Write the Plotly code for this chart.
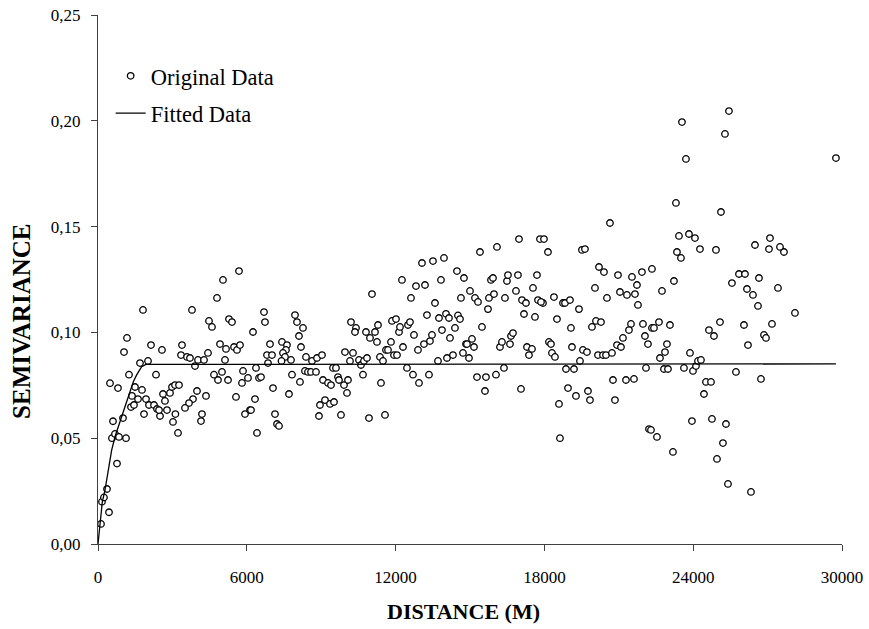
import plotly.graph_objects as go

# ---- Original data: distance (m) and semivariance ----
distance_m = [
    121, 160, 240, 363, 444, 766, 564, 685, 847, 1129, 605, 1008, 484, 806, 1048, 1169, 1250,
    1330, 1451, 1371, 1492, 1613, 1774, 1693, 2016, 1855, 1935, 2056, 2258, 2379, 2500, 2460,
    2137, 2339, 2580, 2621, 2701, 2903, 2782, 2984, 3105, 3266, 3120, 3024, 3226, 1814, 3387,
    3347, 3588, 3709, 3911, 4032, 4274, 4435, 3790, 3992, 3830, 3669, 3508, 4355, 4193, 4153,
    4475, 4596, 4677, 4838, 5000, 5242, 4919, 5161, 5121, 5484, 5605, 5726, 5282, 5403, 5564,
    5847, 5806, 6048, 6371, 6492, 6572, 5927, 6129, 6169, 6330, 6411, 6250, 6733, 6693, 6935,
    6814, 7016, 6854, 7056, 7137, 7217, 7298, 7419, 4798, 5040, 5685,
    11048, 12257, 13064, 13507, 13951, 14475, 14757, 15000, 12822, 13185, 13830, 12620, 13588,
    14636, 7943, 13265, 14032, 14515,
    8024, 8266, 8104, 7620, 7580, 7459, 7540, 7400, 7782, 8185, 8387, 8629, 8830, 9032, 7822,
    8144, 7701, 8346, 8467, 8588, 8790, 9072, 9274, 9395, 9475, 9596, 9677, 9717, 9919, 10080,
    10040, 8951, 9153, 9354, 9516, 8911, 9798, 10927, 11572, 11411, 10685, 10201, 10403, 10362,
    9959, 10282, 10161, 10524, 10604, 10725, 10846, 10806, 10967, 11169, 11290, 11249, 11370,
    11491, 11612, 11693, 11814, 11935, 12056, 12298, 11854, 12016, 12137, 12177, 12499, 12580,
    12741, 12459, 12701, 12943, 13346, 12902, 13144, 13386, 13467, 13709, 13749, 14153, 13870,
    14193, 14394, 14596, 14072, 14314, 14717, 14838, 14959,
    20644, 16975, 17822, 17983, 18144, 15403, 16088, 19515, 19636, 15201, 15322, 15725, 15765,
    15967, 15846, 15927, 16491, 16531, 16934, 16410, 16854, 17096, 17257, 17177, 17540, 17701,
    17741, 17942, 17862, 18386, 18749, 18830, 19031, 19394, 20039, 20201, 20402, 20523, 20967,
    21047, 21329, 21652, 21531, 21732, 21934, 22337, 21773,
    17620, 18507, 19071, 19918, 20080, 20281, 21491, 21410, 21168, 21974, 22337, 22055, 22176,
    15483, 14878, 15080, 15161, 16209, 16289, 16612, 16652, 16733, 17297, 17499, 17378, 18184,
    18265, 18305, 18426, 19112, 19555, 19716, 19434, 20160, 20362, 20483, 20725, 20927, 21088,
    15282, 15644, 16047, 16370, 15604, 17056, 18870, 19193, 18951, 19273, 19757, 19837, 18588,
    18628, 20765, 21289, 21612, 20845, 22096, 22217, 22297,
    25442, 23547, 25281, 23708, 29756, 23305, 25120, 23426, 23829, 24071, 23345, 23507, 24273,
    24918, 26491, 27096, 27056, 27499, 27660, 23224, 22741, 25845, 26088, 25563, 26652, 26168,
    26410, 27418, 26612, 28104,
    22620, 22418, 23063, 22942, 22862, 22660, 22821, 22983, 23628, 23870, 23991, 24112, 24193,
    24313, 24636, 24838, 25080, 26047, 26209, 26854, 26935, 27177, 25724, 26733, 24515, 24717,
    24434, 23950, 24757, 25321, 22539, 23184, 25200, 24959, 25402, 26330,
]
semivariance = [
    0.0095, 0.0200, 0.0220, 0.0260, 0.0150, 0.0380, 0.0500, 0.0520, 0.0506, 0.0500, 0.0580, 0.0595, 0.0760, 0.0737, 0.0907, 0.0974, 0.0800,
    0.0647, 0.0657, 0.0700, 0.0742, 0.0685, 0.0728, 0.0855, 0.0865, 0.0614, 0.0685, 0.0657, 0.0657, 0.0638, 0.0605, 0.0633,
    0.0940, 0.0800, 0.0917, 0.0709, 0.0676, 0.0714, 0.0633, 0.0742, 0.0751, 0.0751, 0.0614, 0.0577, 0.0525, 0.1106, 0.0940,
    0.0893, 0.0884, 0.0879, 0.0841, 0.0870, 0.0870, 0.0903, 0.1106, 0.0723, 0.0685, 0.0666, 0.0643, 0.0700, 0.0614, 0.0581,
    0.1054, 0.1026, 0.0800, 0.0775, 0.0813, 0.0775, 0.0945, 0.0922, 0.0870, 0.0931, 0.0917, 0.0940, 0.1063, 0.1049, 0.0695,
    0.0818, 0.0761, 0.0785, 0.0832, 0.0785, 0.0789, 0.0614, 0.0633, 0.0633, 0.0685, 0.0525, 0.1002, 0.1049, 0.1096, 0.0945,
    0.0893, 0.0893, 0.0855, 0.0737, 0.0614, 0.0567, 0.0558, 0.0955, 0.1163, 0.1248, 0.1290,
    0.1181, 0.1248, 0.1328, 0.1337, 0.1352, 0.1290, 0.1257, 0.1196, 0.1219, 0.1224, 0.1248, 0.1163, 0.1139,
    0.1163, 0.1082, 0.1082, 0.1088, 0.1080,
    0.1049, 0.1021, 0.0983, 0.0940, 0.0917, 0.0903, 0.0884, 0.0865, 0.0870, 0.0931, 0.0884, 0.0865, 0.0879, 0.0893, 0.0800,
    0.0766, 0.0709, 0.0818, 0.0813, 0.0813, 0.0813, 0.0775, 0.0761, 0.0751, 0.0832, 0.0832, 0.0789, 0.0775, 0.0751, 0.0775,
    0.0714, 0.0657, 0.0680, 0.0662, 0.0671, 0.0605, 0.0610, 0.0595, 0.0610, 0.0761, 0.0800, 0.1049, 0.1021, 0.1002,
    0.0907, 0.0903, 0.0865, 0.0870, 0.0846, 0.0865, 0.0879, 0.1002, 0.0974, 0.1002, 0.1035, 0.0955, 0.0884,
    0.0865, 0.0917, 0.0917, 0.0955, 0.0893, 0.0893, 0.0931, 0.1054, 0.1063, 0.1002, 0.1026, 0.1035, 0.1049,
    0.0988, 0.0832, 0.0800, 0.0761, 0.0800, 0.0917, 0.0945, 0.0959, 0.0988, 0.0865, 0.1068, 0.1068, 0.1011,
    0.0974, 0.1021, 0.1063, 0.0879, 0.0893, 0.0903, 0.0945, 0.0879,
    0.1517, 0.1441, 0.1441, 0.1441, 0.1380, 0.1380, 0.1404, 0.1390, 0.1394, 0.1163, 0.1144, 0.1110, 0.1163,
    0.1181, 0.1248, 0.1257, 0.1243, 0.1271, 0.1271, 0.1163, 0.1196, 0.1153, 0.1139, 0.1087, 0.1210, 0.1271,
    0.1153, 0.1139, 0.1144, 0.1167, 0.1139, 0.1139, 0.1153, 0.1110, 0.1210, 0.1309, 0.1285, 0.1163, 0.1271,
    0.1191, 0.1177, 0.1181, 0.1262, 0.1224, 0.1285, 0.1300, 0.1130,
    0.1073, 0.1063, 0.1021, 0.1026, 0.1054, 0.1049, 0.1040, 0.1011, 0.0974, 0.1040, 0.1021, 0.0983, 0.0945,
    0.1026, 0.0945, 0.0969, 0.0931, 0.0931, 0.0955, 0.0945, 0.0983, 0.0997, 0.0931, 0.0922, 0.0893, 0.0955,
    0.0945, 0.0903, 0.0884, 0.0931, 0.0917, 0.0907, 0.0865, 0.0893, 0.0893, 0.0893, 0.0903, 0.0940, 0.0931,
    0.0789, 0.0789, 0.0800, 0.0832, 0.0723, 0.0733, 0.0827, 0.0827, 0.0737, 0.0700, 0.0723, 0.0680, 0.0662,
    0.0500, 0.0775, 0.0775, 0.0780, 0.0680, 0.0832, 0.0543, 0.0539,
    0.2046, 0.1994, 0.1938, 0.1820, 0.1824, 0.1612, 0.1569, 0.1456, 0.1465, 0.1446, 0.1380, 0.1352, 0.1394,
    0.1390, 0.1413, 0.1446, 0.1394, 0.1404, 0.1380, 0.1243, 0.1196, 0.1276, 0.1276, 0.1233, 0.1257, 0.1205,
    0.1177, 0.1210, 0.1125, 0.1092,
    0.1049, 0.1021, 0.1035, 0.0945, 0.0907, 0.0879, 0.0827, 0.0827, 0.0832, 0.0903, 0.0818, 0.0841, 0.0865,
    0.0870, 0.1011, 0.0983, 0.1049, 0.1035, 0.0940, 0.0988, 0.0974, 0.1040, 0.0813, 0.0780, 0.0766, 0.0766,
    0.0709, 0.0581, 0.0591, 0.0567, 0.0506, 0.0435, 0.0477, 0.0402, 0.0284, 0.0246,
]

# ---- Fitted model curve ----
fit_distance = [0, 81, 175, 282, 417, 551, 685, 820, 1021, 1223, 1424, 1559, 1760, 1935, 29756]
fit_semivariance = [0.0, 0.0098, 0.0200, 0.0255, 0.0350, 0.0444, 0.0507, 0.0554, 0.0617,
                    0.0696, 0.0767, 0.0799, 0.0838, 0.0849, 0.0851]

# ---- Axis ticks and titles ----
x_tick_vals = [0, 6000, 12000, 18000, 24000, 30000]
x_tick_text = ["0", "6000", "12000", "18000", "24000", "30000"]
y_tick_vals = [0.0, 0.05, 0.10, 0.15, 0.20, 0.25]
y_tick_text = ["0,00", "0,05", "0,10", "0,15", "0,20", "0,25"]
x_title = "DISTANCE (M)"
y_title = "SEMIVARIANCE"

FONT = "Liberation Serif, Times New Roman, serif"
AXIS_COLOR = "#404040"

fig = go.Figure()
fig.add_trace(go.Scatter(
    x=distance_m, y=semivariance, mode="markers", name="Original Data",
    legendgroup="a",
    marker=dict(symbol="circle", size=6.5, color="white",
                line=dict(color="black", width=1.3)),
))
fig.add_trace(go.Scatter(
    x=fit_distance, y=fit_semivariance, mode="lines", name="Fitted Data",
    legendgroup="b",
    line=dict(color="black", width=1.3),
))

fig.update_layout(
    width=869, height=629,
    margin=dict(l=98, r=27, t=15, b=85, autoexpand=False),
    paper_bgcolor="white", plot_bgcolor="white",
    font=dict(family=FONT, color="black"),
    showlegend=True,
    legend=dict(x=0.017, y=0.925, xanchor="left", yanchor="top",
                bgcolor="rgba(0,0,0,0)", font=dict(family=FONT, size=22.5),
                traceorder="grouped", tracegroupgap=5),
    xaxis=dict(
        range=[0, 30000], showgrid=False, zeroline=False,
        showline=True, linecolor=AXIS_COLOR, linewidth=1.3,
        ticks="outside", ticklen=6, tickwidth=1.3, tickcolor=AXIS_COLOR,
        tickvals=x_tick_vals, ticktext=x_tick_text, ticklabelstandoff=11,
        ticklabeloverflow="allow",
        tickfont=dict(family=FONT, size=17, color="black"),
        automargin=False,
    ),
    yaxis=dict(
        range=[0, 0.25], showgrid=False, zeroline=False,
        showline=True, linecolor=AXIS_COLOR, linewidth=1.3,
        ticks="outside", ticklen=6, tickwidth=1.3, tickcolor=AXIS_COLOR,
        tickvals=y_tick_vals, ticktext=y_tick_text, ticklabelstandoff=7,
        ticklabeloverflow="allow",
        tickfont=dict(family=FONT, size=17, color="black"),
        automargin=False,
    ),
    annotations=[
        dict(text="<b>" + x_title + "</b>", xref="paper", yref="paper",
             x=0.4906, y=-0.1285, xanchor="center", yanchor="middle",
             showarrow=False, font=dict(family=FONT, size=22, color="black")),
        dict(text="<b>" + y_title + "</b>", xref="paper", yref="paper",
             x=-0.102, y=0.420, xanchor="center", yanchor="middle", textangle=-90,
             showarrow=False, font=dict(family=FONT, size=25, color="black")),
    ],
)

fig.write_html(
    "out.html",
    config={"displayModeBar": False},
    post_script="document.body.style.margin='0';document.body.style.overflow='hidden';",
)
